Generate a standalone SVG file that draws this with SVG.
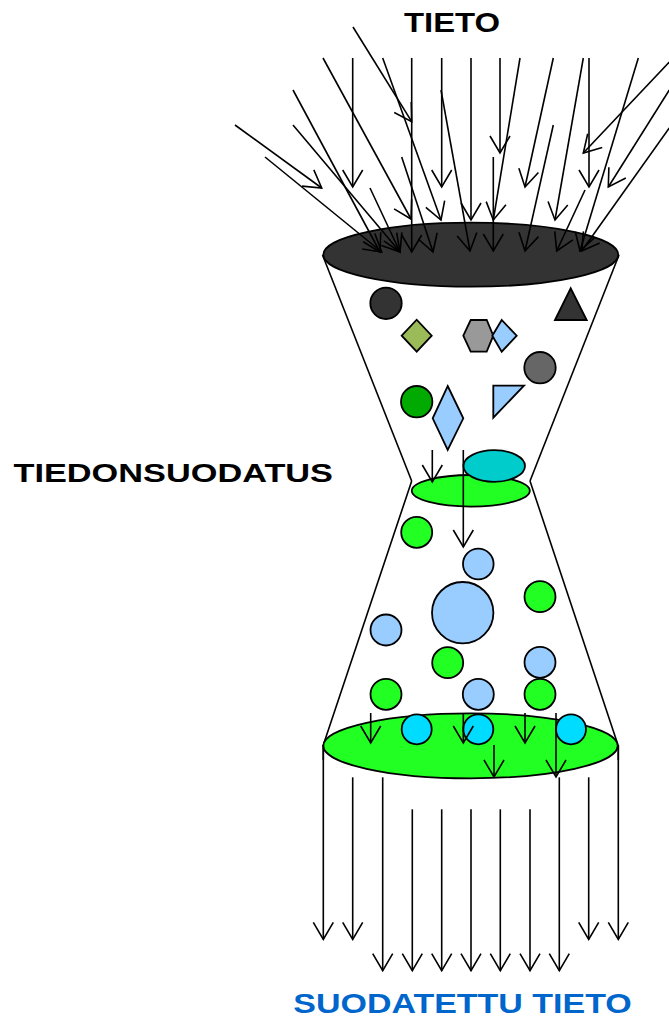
<svg xmlns="http://www.w3.org/2000/svg" width="669" height="1021" viewBox="0 0 669 1021">
  <style>
    .o { stroke:#000; stroke-width:1.8; }
    .fl { fill:none; stroke:#000; stroke-width:1.6; }
    .ar { stroke:#000; stroke-width:1.6; fill:none; marker-end:url(#ah); }
    .lbl { font-family:"Liberation Sans", Arial, sans-serif; font-weight:bold; }
    .g { fill:#22ff22; }
    .b { fill:#99ccff; }
  </style>
  <defs>
    <marker id="ah" markerUnits="userSpaceOnUse" markerWidth="24" markerHeight="24" viewBox="-20 -12 24 24" refX="0" refY="0" orient="auto" overflow="visible">
      <path d="M-17,-10 L0,0 L-17,10" fill="none" stroke="#000" stroke-width="1.6"/>
    </marker>
  </defs>
  <rect width="669" height="1021" fill="#fff"/>

  <g id="funnel">
    <line class="fl" x1="322.5" y1="255" x2="411.7" y2="481"/>
    <line class="fl" x1="619" y1="255" x2="530" y2="481"/>
    <line class="fl" x1="411.7" y1="481" x2="323.3" y2="745"/>
    <line class="fl" x1="530" y1="481" x2="618" y2="745"/>
  </g>

  <g id="top-opening">
    <ellipse class="o" cx="470.8" cy="254.7" rx="147.5" ry="32" fill="#333333"/>
  </g>

  <g id="unfiltered-shapes">
    <circle class="o" cx="386" cy="303.3" r="15.7" fill="#333333"/>
    <polygon class="o" points="555,320 570.7,288.3 586.7,320" fill="#333333"/>
    <polygon class="o" points="401.7,335.7 416.7,319.7 431.7,335.7 416.7,351.7" fill="#9bbb59"/>
    <polygon class="o" points="463.3,335.7 470.7,320 486.7,320 493.3,335.7 486.7,351.7 470.7,351.7" fill="#999999"/>
    <polygon class="o b" points="492.3,335.7 501.7,320 516.7,335.7 501.7,351.7"/>
    <circle class="o" cx="540" cy="367.7" r="15.7" fill="#666666"/>
    <circle class="o" cx="416.7" cy="401.7" r="15.7" fill="#00aa00"/>
    <polygon class="o b" points="447.7,386 463.3,418.3 447.7,450 432.7,418.3"/>
    <polygon class="o b" points="493.3,385.7 524,385.7 493.3,417.7"/>
  </g>

  <g id="neck">
    <ellipse class="o g" cx="470.8" cy="490.8" rx="59" ry="15.8"/>
    <ellipse class="o" cx="494.2" cy="466" rx="30.8" ry="15.8" fill="#00cccc"/>
  </g>

  <g id="filtered-shapes">
    <circle class="o g" cx="416.7" cy="532.3" r="15.5"/>
    <circle class="o b" cx="478.3" cy="564" r="15.3"/>
    <circle class="o b" cx="462.7" cy="612.7" r="30.7"/>
    <circle class="o g" cx="540" cy="596.7" r="15.5"/>
    <circle class="o b" cx="386" cy="630" r="15.5"/>
    <circle class="o g" cx="447.7" cy="662.7" r="15.5"/>
    <circle class="o b" cx="540" cy="662.3" r="15.5"/>
    <circle class="o g" cx="386" cy="694.3" r="15.5"/>
    <circle class="o b" cx="478.3" cy="694.3" r="15.5"/>
    <circle class="o g" cx="540" cy="694.3" r="15.5"/>
  </g>

  <g id="bottom-opening">
    <line class="fl" x1="323.3" y1="745" x2="323.3" y2="760"/>
    <line class="fl" x1="618.3" y1="745" x2="618.3" y2="760"/>
    <ellipse class="o g" cx="470.5" cy="745.8" rx="147.2" ry="32.5"/>
    <circle class="o" cx="416.7" cy="729.3" r="15" fill="#00dcff"/>
    <circle class="o" cx="478.3" cy="729.3" r="15" fill="#00dcff"/>
    <circle class="o" cx="571" cy="729.3" r="15" fill="#00dcff"/>
  </g>

  <g id="connectors">
    <line class="ar" x1="353" y1="27" x2="411.7" y2="121.7"/>
    <line class="ar" x1="323" y1="58" x2="411" y2="219"/>
    <line class="ar" x1="352.7" y1="58" x2="352.7" y2="187"/>
    <line class="ar" x1="382.7" y1="58" x2="441" y2="220"/>
    <line class="ar" x1="411.7" y1="58" x2="411.7" y2="252"/>
    <line class="ar" x1="441.7" y1="58" x2="441.7" y2="187"/>
    <line class="ar" x1="441" y1="90" x2="470" y2="251"/>
    <line class="ar" x1="293" y1="90" x2="380" y2="252"/>
    <line class="ar" x1="293" y1="125" x2="400" y2="252"/>
    <line class="ar" x1="235" y1="125" x2="321.7" y2="188"/>
    <line class="ar" x1="265" y1="157" x2="381.7" y2="252"/>
    <line class="ar" x1="370" y1="188" x2="400" y2="252"/>
    <line class="ar" x1="401.7" y1="157" x2="433" y2="252"/>
    <line class="ar" x1="471" y1="58" x2="471" y2="220"/>
    <line class="ar" x1="500" y1="58" x2="500" y2="153"/>
    <line class="ar" x1="520" y1="58" x2="493.3" y2="220"/>
    <line class="ar" x1="493.3" y1="157" x2="493.3" y2="251"/>
    <line class="ar" x1="553.3" y1="58" x2="525" y2="187"/>
    <line class="ar" x1="553.3" y1="125" x2="525" y2="251"/>
    <line class="ar" x1="583.3" y1="58" x2="555" y2="220"/>
    <line class="ar" x1="589" y1="58" x2="589" y2="187"/>
    <line class="ar" x1="638.3" y1="58" x2="580" y2="251"/>
    <line class="ar" x1="669.3" y1="62" x2="583.3" y2="153"/>
    <line class="ar" x1="669.3" y1="90" x2="608.3" y2="187"/>
    <line class="ar" x1="669.3" y1="128" x2="581.7" y2="251"/>
    <line class="ar" x1="585" y1="190" x2="556.7" y2="251"/>

    <line class="ar" x1="432.3" y1="450" x2="432.3" y2="482"/>
    <line class="ar" x1="463.3" y1="450" x2="463.3" y2="547"/>

    <line class="ar" x1="370.7" y1="713" x2="370.7" y2="743"/>
    <line class="ar" x1="463.3" y1="713" x2="463.3" y2="743"/>
    <line class="ar" x1="525" y1="713" x2="525" y2="743"/>
    <line class="ar" x1="494" y1="745" x2="494" y2="777"/>
    <line class="ar" x1="556" y1="713" x2="556" y2="777"/>

    <line class="ar" x1="323.3" y1="745" x2="323.3" y2="939.3"/>
    <line class="ar" x1="352.7" y1="777.3" x2="352.7" y2="939.3"/>
    <line class="ar" x1="382.7" y1="777.3" x2="382.7" y2="970.7"/>
    <line class="ar" x1="412.3" y1="809.3" x2="412.3" y2="970.7"/>
    <line class="ar" x1="441.7" y1="809.3" x2="441.7" y2="970.7"/>
    <line class="ar" x1="471" y1="809.3" x2="471" y2="970.7"/>
    <line class="ar" x1="500.3" y1="809.3" x2="500.3" y2="970.7"/>
    <line class="ar" x1="530" y1="809.3" x2="530" y2="970.7"/>
    <line class="ar" x1="559.3" y1="777.3" x2="559.3" y2="970.7"/>
    <line class="ar" x1="588.7" y1="777.3" x2="588.7" y2="939.3"/>
    <line class="ar" x1="618.3" y1="745" x2="618.3" y2="939.3"/>
  </g>

  <g id="labels">
    <text class="lbl" x="404" y="31.5" font-size="28.5" textLength="96" lengthAdjust="spacingAndGlyphs" fill="#000">TIETO</text>
    <text class="lbl" x="13.5" y="481.7" font-size="26.5" textLength="319.5" lengthAdjust="spacingAndGlyphs" fill="#000">TIEDONSUODATUS</text>
    <text class="lbl" x="293.3" y="1013.3" font-size="28" textLength="338.4" lengthAdjust="spacingAndGlyphs" fill="#0066cc">SUODATETTU TIETO</text>
  </g>
</svg>
